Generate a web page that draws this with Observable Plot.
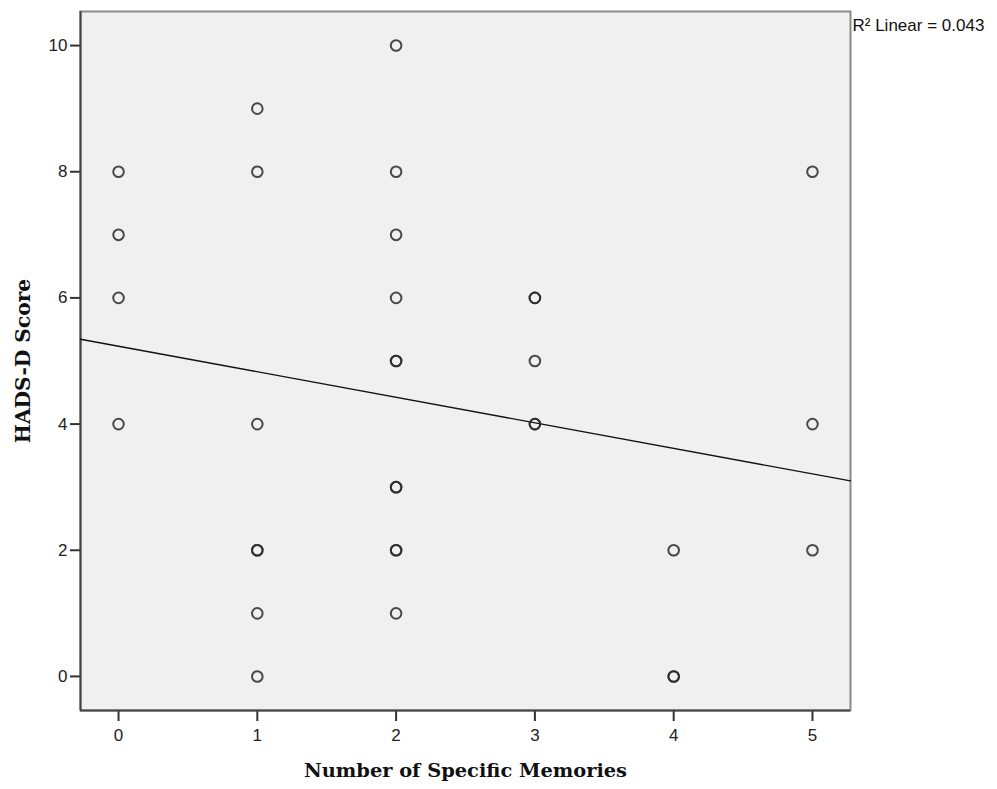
<!DOCTYPE html>
<html>
<head>
<meta charset="utf-8">
<script src="https://cdn.jsdelivr.net/npm/d3@7"></script>
<script src="https://cdn.jsdelivr.net/npm/@observablehq/plot@0.6"></script>
<style>
  html, body { margin: 0; padding: 0; background: #ffffff; }
  #chart { width: 997px; height: 789px; }
</style>
</head>
<body>
<div id="chart"></div>
<script>
// Number of specific memories (x) and HADS-D score (y), one entry per participant
const memories = [0,0,0,0, 1,1,1,1,1,1,1, 2,2,2,2,2,2,2,2,2,2,2, 3,3,3,3,3, 4,4,4, 5,5,5];
const hadsD    = [8,7,6,4, 9,8,4,2,2,1,0, 10,8,7,6,5,5,3,3,2,2,1, 6,6,5,4,4, 2,0,0, 8,4,2];
const xTicks = [0, 1, 2, 3, 4, 5];
const yTicks = [0, 2, 4, 6, 8, 10];
const xLabel = "Number of Specific Memories";
const yLabel = "HADS-D Score";

const data = memories.map((m, i) => ({x: m, y: hadsD[i]}));

// least-squares fit
const mx = d3.mean(memories), my = d3.mean(hadsD);
const sxy = d3.sum(data, d => (d.x - mx) * (d.y - my));
const sxx = d3.sum(data, d => (d.x - mx) ** 2);
const syy = d3.sum(data, d => (d.y - my) ** 2);
const slope = sxy / sxx, intercept = my - slope * mx;
const r2 = (sxy * sxy) / (sxx * syy);

const xDomain = [-0.274, 5.274];
const yDomain = [-0.54, 10.54];
const fitLine = xDomain.map(x => ({x, y: intercept + slope * x}));

const chart = Plot.plot({
  width: 997,
  height: 789,
  marginLeft: 80,
  marginRight: 147,
  marginTop: 11,
  marginBottom: 79,
  style: {fontFamily: "'Liberation Sans', Arial, sans-serif", fontSize: "17px", color: "#222", background: "#ffffff"},
  x: {domain: xDomain},
  y: {domain: yDomain},
  marks: [
    Plot.frame({fill: "#f0f0f0", stroke: "#8a8a8a", strokeWidth: 2}),
    Plot.axisX({ticks: xTicks, tickFormat: "d", tickSize: 11, tickPadding: 7, strokeWidth: 2, stroke: "#333", label: null, fontSize: 17}),
    Plot.axisY({ticks: yTicks, tickFormat: "d", tickSize: 10, tickPadding: 3, strokeWidth: 2, stroke: "#333", label: null, fontSize: 17}),
    Plot.ruleX([xDomain[0]], {stroke: "#444", strokeWidth: 2}),
    Plot.ruleY([yDomain[0]], {stroke: "#444", strokeWidth: 2}),
    Plot.line(fitLine, {x: "x", y: "y", stroke: "#111", strokeWidth: 1.4}),
    Plot.dot(data, {x: "x", y: "y", r: 5.3, stroke: "#2a2a2a", strokeWidth: 2, strokeOpacity: 0.85, fill: "none"}),
    Plot.text([`R² Linear = ${r2.toFixed(3)}`], {frameAnchor: "top-right", dx: 2, dy: 14, textAnchor: "start", lineAnchor: "middle", fontSize: 17, fill: "#111"}),
    Plot.text([xLabel], {frameAnchor: "bottom", dy: 60, textAnchor: "middle", lineAnchor: "middle", fontFamily: "'DejaVu Serif', serif", fontWeight: "bold", fontSize: 19.4, fill: "#111"}),
    Plot.text([yLabel], {frameAnchor: "left", dx: -56.5, rotate: -90, textAnchor: "middle", lineAnchor: "middle", fontFamily: "'DejaVu Serif', serif", fontWeight: "bold", fontSize: 20.2, fill: "#111"})
  ]
});
document.getElementById("chart").appendChild(chart);
</script>
</body>
</html>
